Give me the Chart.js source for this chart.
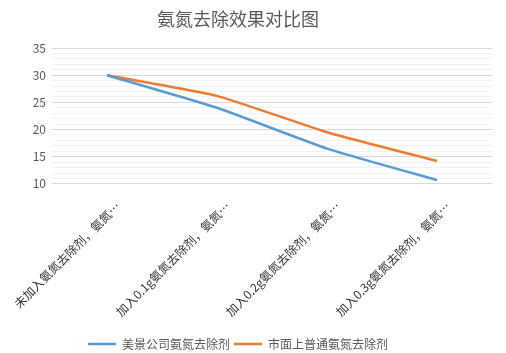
<!DOCTYPE html>
<html><head><meta charset="utf-8">
<script src="https://cdn.jsdelivr.net/npm/chart.js@4.4.0/dist/chart.umd.min.js"></script>
<style>html,body{margin:0;padding:0;background:#fff}#w{width:506px;height:353px;position:relative}</style>
</head><body><div id="w"><canvas id="c"></canvas></div>
<script>
const chartTitle = '氨氮去除效果对比图';
const categories = ['未加入氨氮去除剂，氨氮…', '加入0.1g氨氮去除剂，氨氮…', '加入0.2g氨氮去除剂，氨氮…', '加入0.3g氨氮去除剂，氨氮…'];
const seriesNames = ['美景公司氨氮去除剂', '市面上普通氨氮去除剂'];
const meijingValues = [30, 24, 16.5, 10.7];
const marketValues = [30, 26.2, 19.5, 14.2];
const yMin = 10, yMax = 35, yMajorStep = 5, yMinorStep = 1;

const FONT = '"Noto Sans CJK SC", "Microsoft YaHei", sans-serif';
const HEADER_CENTER_X = 238;

const titlePlugin = {
  id: 'customTitle',
  beforeDraw(chart) {
    // centre the legend row under the title, as in the original
    const lg = chart.legend;
    if (lg) {
      const d = HEADER_CENTER_X - (lg.left + lg.right) / 2;
      lg.left += d; lg.right += d;
    }
  },
  afterDraw(chart) {
    const ctx = chart.ctx;
    ctx.save();
    ctx.font = '18px ' + FONT;
    ctx.fillStyle = '#595959';
    ctx.textAlign = 'center';
    ctx.textBaseline = 'middle';
    ctx.fillText(chartTitle, HEADER_CENTER_X, 19);
    ctx.restore();
  }
};

new Chart(document.getElementById('c'), {
  type: 'line',
  data: {
    labels: categories,
    datasets: [
      { label: seriesNames[0], data: meijingValues, borderColor: '#5B9BD5', backgroundColor: '#5B9BD5', borderWidth: 2.5, pointRadius: 0, tension: 0.15, fill: false },
      { label: seriesNames[1], data: marketValues, borderColor: '#ED7D31', backgroundColor: '#ED7D31', borderWidth: 2.5, pointRadius: 0, tension: 0.15, fill: false }
    ]
  },
  plugins: [titlePlugin],
  options: {
    responsive: true,
    maintainAspectRatio: false,
    animation: false,
    layout: { padding: { top: 48, left: 31, right: 14, bottom: -7 } },
    plugins: {
      title: { display: false },
      tooltip: { enabled: false },
      legend: {
        position: 'bottom',
        align: 'center',
        labels: {
          usePointStyle: true,
          pointStyle: 'line',
          pointStyleWidth: 28,
          padding: 4,
          color: '#595959',
          font: { family: FONT, size: 12 }
        }
      }
    },
    scales: {
      x: {
        offset: true,
        grid: { display: false, drawTicks: false },
        border: { display: false },
        ticks: {
          autoSkip: false,
          maxRotation: 45,
          minRotation: 45,
          padding: 15,
          labelOffset: 11,
          color: '#333333',
          font: { family: FONT, size: 12 }
        },
        afterFit: s => { s.paddingLeft = 0; s.paddingRight = 0; }
      },
      y: {
        min: yMin,
        max: yMax,
        grid: {
          drawTicks: false,
          color: ctx => (ctx.tick && ctx.tick.value % yMajorStep === 0) ? '#d9d9d9' : '#f2f2f2',
          lineWidth: 1
        },
        border: { display: false },
        ticks: {
          stepSize: yMinorStep,
          autoSkip: false,
          padding: 6,
          color: '#595959',
          font: { family: FONT, size: 12 },
          callback: v => (v % yMajorStep === 0 ? String(v) : '')
        },
        afterFit: s => { s.width = 21; }
      }
    }
  }
});
</script>
</body></html>
